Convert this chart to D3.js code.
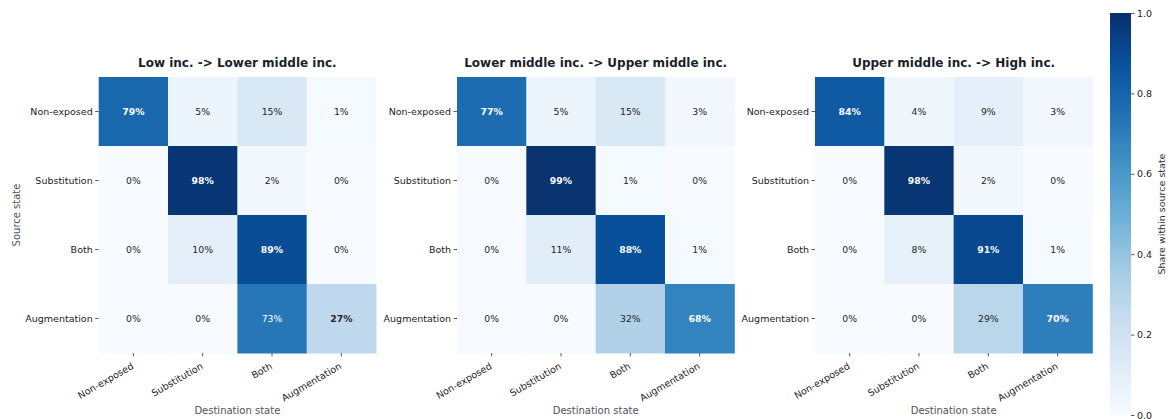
<!DOCTYPE html>
<html>
<head>
<meta charset="utf-8">
<script src="https://cdn.jsdelivr.net/npm/d3@7"></script>
<style>
  html, body { margin: 0; padding: 0; background: #fff; }
  svg { display: block; font-family: "DejaVu Sans", sans-serif; }
</style>
</head>
<body>
<svg id="chart" width="1171" height="419"></svg>
<script>
// Transition matrices: rows = source state, columns = destination state (percent)
const states = ["Non-exposed", "Substitution", "Both", "Augmentation"];
const panelTitles = [
  "Low inc. -> Lower middle inc.",
  "Lower middle inc. -> Upper middle inc.",
  "Upper middle inc. -> High inc."
];
const lowToLowerMiddle = [
  [79, 5, 15, 1],
  [0, 98, 2, 0],
  [0, 10, 89, 0],
  [0, 0, 73, 27]
];
const lowerMiddleToUpperMiddle = [
  [77, 5, 15, 3],
  [0, 99, 1, 0],
  [0, 11, 88, 1],
  [0, 0, 32, 68]
];
const upperMiddleToHigh = [
  [84, 4, 9, 3],
  [0, 98, 2, 0],
  [0, 8, 91, 1],
  [0, 0, 29, 70]
];
const matrices = [lowToLowerMiddle, lowerMiddleToUpperMiddle, upperMiddleToHigh];
const colorbarTicks = [0, 0.2, 0.4, 0.6, 0.8, 1.0];

// Blues colour ramp, piecewise linear through the ColorBrewer stops
const bluesStops = ["#f7fbff", "#deebf7", "#c6dbef", "#9ecae1", "#6baed6",
                    "#4292c6", "#2171b5", "#08519c", "#08306b"];
const color = d3.scaleLinear()
  .domain(bluesStops.map((_, i) => i / (bluesStops.length - 1)))
  .range(bluesStops)
  .interpolate(d3.interpolateRgb)
  .clamp(true);

const svg = d3.select("#chart");

const panelLefts = [98.7, 457, 815];
const panelW = 277.3;
const panelTop = 77, panelH = 276;

const textDark = "#262626";
const titleColor = "#1a1f2b";
const labelColor = "#4d5361";

matrices.forEach((m, p) => {
  const g = svg.append("g").attr("transform", `translate(${panelLefts[p]},${panelTop})`);
  const x = d3.scaleBand().domain(states).range([0, panelW]).padding(0);
  const y = d3.scaleBand().domain(states).range([0, panelH]).padding(0);

  const cells = [];
  m.forEach((row, i) => row.forEach((v, j) => cells.push({ src: states[i], dst: states[j], v, diag: i === j })));

  g.selectAll("rect.cell").data(cells).join("rect")
    .attr("class", "cell")
    .attr("x", d => x(d.dst))
    .attr("y", d => y(d.src))
    .attr("width", x.bandwidth() + 0.5)
    .attr("height", y.bandwidth() + 0.5)
    .attr("fill", d => color(d.v / 100));

  g.selectAll("text.val").data(cells).join("text")
    .attr("class", "val")
    .attr("x", d => x(d.dst) + x.bandwidth() / 2)
    .attr("y", d => y(d.src) + y.bandwidth() / 2)
    .attr("dy", "0.35em")
    .attr("text-anchor", "middle")
    .attr("font-size", 9.3)
    .attr("font-weight", d => d.diag ? "bold" : "normal")
    .attr("fill", d => d.v / 100 > 0.5 ? "#ffffff" : textDark)
    .text(d => d.v + "%");

  // Axes
  const xAxis = g.append("g")
    .attr("transform", `translate(0,${panelH})`)
    .call(d3.axisBottom(x).tickSize(3.5).tickPadding(2));
  const yAxis = g.append("g")
    .call(d3.axisLeft(y).tickSize(3.5).tickPadding(2.5));
  [xAxis, yAxis].forEach(a => {
    a.select(".domain").remove();
    a.selectAll(".tick line").attr("stroke", "#333").attr("stroke-width", 0.8);
    a.selectAll(".tick text").attr("fill", "#222").attr("font-size", 9.5)
      .attr("font-family", "DejaVu Sans, sans-serif");
  });
  xAxis.selectAll(".tick text")
    .attr("text-anchor", "end")
    .attr("y", 0)
    .attr("dy", 0)
    .attr("transform", "translate(1,15) rotate(-30)");

  // Title
  g.append("text")
    .attr("x", panelW / 2)
    .attr("y", -10.5)
    .attr("text-anchor", "middle")
    .attr("font-size", 12)
    .attr("font-weight", "bold")
    .attr("fill", titleColor)
    .text(panelTitles[p]);

  // x label
  g.append("text")
    .attr("x", panelW / 2)
    .attr("y", 337)
    .attr("text-anchor", "middle")
    .attr("font-size", 10)
    .attr("fill", labelColor)
    .text("Destination state");

  if (p === 0) {
    g.append("text")
      .attr("transform", `translate(${19.5 - panelLefts[0]},${panelH / 2}) rotate(-90)`)
      .attr("text-anchor", "middle")
      .attr("font-size", 10)
      .attr("fill", labelColor)
      .text("Source state");
  }
});

// Colorbar
const cbX = 1110, cbW = 21, cbTop = 13, cbBottom = 415;
const defs = svg.append("defs");
const grad = defs.append("linearGradient")
  .attr("id", "blues-grad")
  .attr("x1", 0).attr("y1", 1).attr("x2", 0).attr("y2", 0);
d3.range(0, 1.0001, 0.02).forEach(t => {
  grad.append("stop").attr("offset", t).attr("stop-color", color(t));
});
svg.append("rect")
  .attr("x", cbX).attr("y", cbTop)
  .attr("width", cbW).attr("height", cbBottom - cbTop)
  .attr("fill", "url(#blues-grad)");

const cbScale = d3.scaleLinear().domain([0, 1]).range([cbBottom, cbTop]);
const cbAxis = svg.append("g")
  .attr("transform", `translate(${cbX + cbW},0)`)
  .call(d3.axisRight(cbScale).tickValues(colorbarTicks).tickFormat(d3.format(".1f")).tickSize(3.5).tickPadding(2.5));
cbAxis.select(".domain").remove();
cbAxis.selectAll(".tick line").attr("stroke", "#333").attr("stroke-width", 0.8);
cbAxis.selectAll(".tick text").attr("fill", "#222").attr("font-size", 9.5)
  .attr("font-family", "DejaVu Sans, sans-serif");

svg.append("text")
  .attr("transform", `translate(${1165},${(cbTop + cbBottom) / 2}) rotate(-90)`)
  .attr("text-anchor", "middle")
  .attr("font-size", 9.5)
  .attr("fill", "#333")
  .text("Share within source state");
</script>
</body>
</html>
